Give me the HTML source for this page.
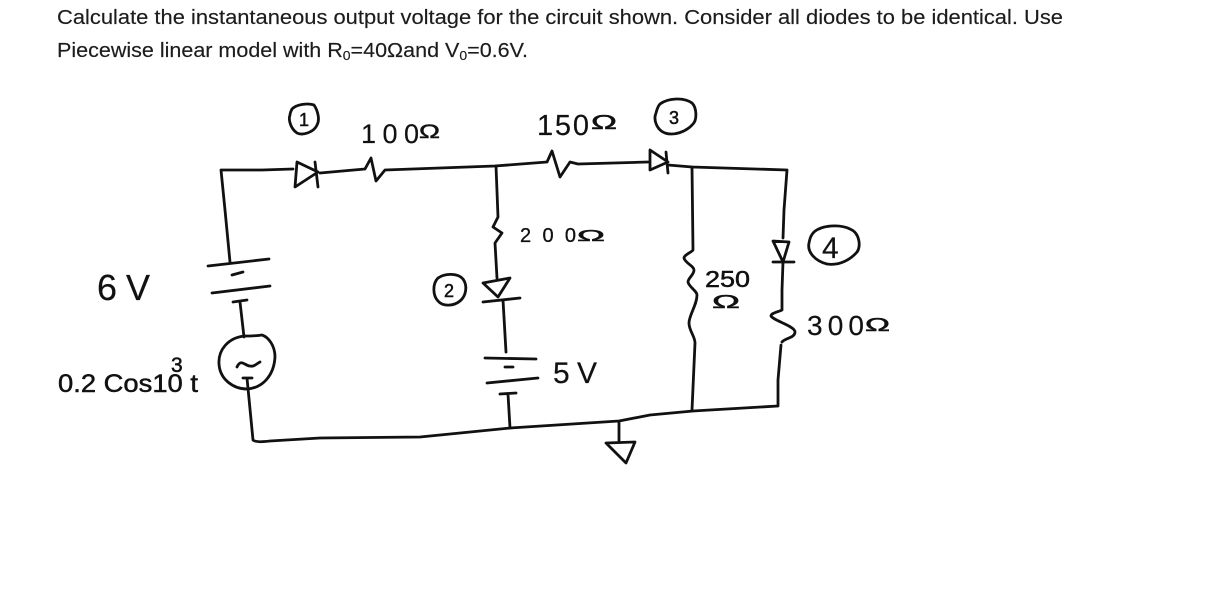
<!DOCTYPE html>
<html><head><meta charset="utf-8"><style>
html,body{margin:0;padding:0;background:#fff}
svg{display:block}
.t{font-family:"Liberation Sans",sans-serif;font-size:20px;fill:#1c1c1c;stroke:#1c1c1c;stroke-width:.15}
.h{font-family:"Liberation Sans",sans-serif;fill:#111;stroke:#111;stroke-width:.5}
path{fill:none;stroke:#111;stroke-width:2.8;stroke-linejoin:round;stroke-linecap:round}
</style></head><body>
<svg width="1209" height="601" viewBox="0 0 1209 601" xmlns="http://www.w3.org/2000/svg">
<rect width="1209" height="601" fill="#fff"/>
<text class="t" x="57" y="24" textLength="1006" lengthAdjust="spacingAndGlyphs">Calculate the instantaneous output voltage for the circuit shown. Consider all diodes to be identical. Use</text>
<text class="t" x="57" y="57" textLength="471" lengthAdjust="spacingAndGlyphs">Piecewise linear model with R<tspan font-size="13" dy="3">0</tspan><tspan dy="-3">=40Ωand V</tspan><tspan font-size="13" dy="3">0</tspan><tspan dy="-3">=0.6V.</tspan></text>

<!-- left branch -->
<path d="M293 169L262 170L221 170L225 210L230 262"/>
<path d="M208 266L269 259M232 275L243 272M212 293L270 286M233 302L247 300M240 302L244 337"/>
<path d="M244 336C228 338 218 350 219 364C220 380 234 389 247 389C263 388 274 375 275 357C275 345 268 337 262 335C256 336 250 336 244 336Z"/>
<path d="M237 367C241 358 245 366 250 366C254 367 256 364 260 362M243 378L252 378M247 378L253 440C255 442 262 442 270 441L320 438L420 437L510 428L619 421L650 415L693 411L778 406L778 380L781 345"/>
<!-- top wire -->
<path d="M297 162L295 187L318 172ZM315 162L318 187M320 173L365 169L371 158L376 181L385 170L495 166L547 162L552 151L560 177L570 162L578 164L648 162"/>
<path d="M650 150L650 170L668 162ZM666 152L668 173M668 165L692 167L787 170L784 210L783 238"/>
<!-- center branch -->
<path d="M496 166L498 217L493 227L502 233L495 243L497 278"/>
<path d="M483 283L510 278L498 297ZM483 302L520 298M503 300L506 352M485 358L536 359M505 367L513 367M487 383L538 378M500 394L516 393M508 394L510 428"/>
<!-- 250 branch -->
<path d="M692 167L693 250C692 252 684 255 684 258C685 263 694 266 694 270C694 275 688 278 688 282C689 287 697 291 697 295C697 305 689 315 689 323C689 331 695 336 695 343L692 410"/>
<!-- 300 branch -->
<path d="M773 241L789 242L783 262ZM773 262L794 262M783 262L782 290L782 310C778 312 771 313 771 316C774 321 795 326 795 332C795 338 785 338 782 342"/>
<!-- ground -->
<path d="M619 422L619 441M606 443L635 442L626 463Z"/>
<!-- node circles -->
<path stroke-width="2.2" d="M292 109C297 104 308 103 314 105C318 111 320 120 317 125C314 132 303 136 297 133C291 129 288 120 290 115C290 113 291 111 292 109Z"/>
<path stroke-width="2.2" d="M660 104C668 98 684 97 692 103C697 108 697 120 693 124C686 132 674 136 665 133C657 130 653 120 656 113C657 109 658 106 660 104Z"/>
<path stroke-width="2.2" d="M814 232C822 225 840 224 850 229C860 233 861 247 857 252C851 259 840 266 827 264C815 261 807 252 809 243C810 238 811 235 814 232Z"/>
<path stroke-width="2.2" d="M438 278C445 273 458 273 463 279C468 286 466 296 460 301C454 306 443 307 438 301C433 296 432 284 438 278Z"/>
<text class="h" x="299" y="126" font-size="18">1</text>
<text class="h" x="669" y="124" font-size="18">3</text>
<text class="h" x="822" y="258" font-size="30" style="stroke-width:.2">4</text>
<text class="h" x="444" y="297" font-size="18">2</text>
<!-- labels -->
<text class="h" x="361" y="143" font-size="27" textLength="58" lengthAdjust="spacing" style="stroke-width:.2">100</text>
<text class="h" x="419" y="138" font-size="19" textLength="21" lengthAdjust="spacingAndGlyphs">Ω</text>
<text class="h" x="537" y="135" font-size="29" textLength="52" lengthAdjust="spacing" style="stroke-width:.2">150</text>
<text class="h" x="591" y="129" font-size="20" textLength="26" lengthAdjust="spacingAndGlyphs">Ω</text>
<text class="h" x="520" y="242" font-size="20" textLength="56" lengthAdjust="spacing" style="stroke-width:.3">200</text>
<text class="h" x="577" y="241" font-size="16" textLength="28" lengthAdjust="spacingAndGlyphs">Ω</text>
<text class="h" x="705" y="287" font-size="23" textLength="45" lengthAdjust="spacingAndGlyphs">250</text>
<text class="h" x="712" y="308" font-size="18" textLength="28" lengthAdjust="spacingAndGlyphs">Ω</text>
<text class="h" x="807" y="335" font-size="28" textLength="57" lengthAdjust="spacing" style="stroke-width:.2">300</text>
<text class="h" x="865" y="331" font-size="18" textLength="25" lengthAdjust="spacingAndGlyphs">Ω</text>
<text class="h" x="97" y="300" font-size="36" textLength="53" lengthAdjust="spacing" style="stroke-width:.2">6V</text>
<text class="h" x="553" y="383" font-size="30" textLength="44" lengthAdjust="spacing" style="stroke-width:.2">5V</text>
<text class="h" x="58" y="392" font-size="25" textLength="140" lengthAdjust="spacingAndGlyphs">0.2 Cos10 t</text>
<text class="h" x="171" y="372" font-size="21">3</text>
</svg>
</body></html>
